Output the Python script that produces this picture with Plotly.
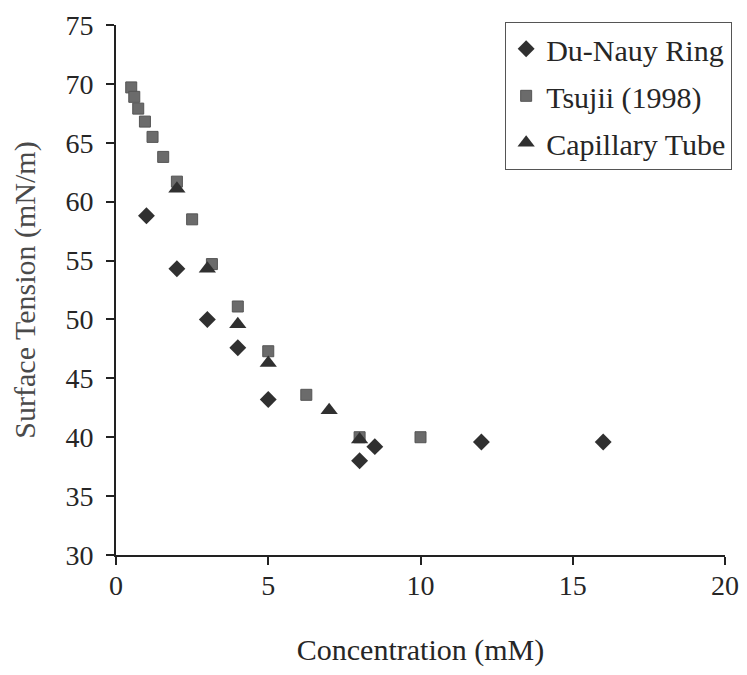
import plotly.graph_objects as go

# Du-Nouy ring measurements
ring_conc = [1, 2, 3, 4, 5, 8, 8.5, 12, 16]
ring_st = [58.8, 54.3, 50.0, 47.6, 43.2, 38.0, 39.2, 39.6, 39.6]

# Tsujii (1998) literature values
tsujii_conc = [0.5, 0.6, 0.73, 0.95, 1.2, 1.55, 2.0, 2.5, 3.15, 4.0, 5.0, 6.25, 8.0, 10.0]
tsujii_st = [69.7, 68.9, 67.9, 66.8, 65.5, 63.8, 61.7, 58.5, 54.7, 51.1, 47.3, 43.6, 40.0, 40.0]

# capillary tube measurements
cap_conc = [2, 3, 4, 5, 7, 8]
cap_st = [61.1, 54.3, 49.6, 46.3, 42.3, 39.8]

font_family = "Liberation Serif, Times New Roman, serif"

fig = go.Figure()
fig.add_trace(go.Scatter(x=tsujii_conc, y=tsujii_st, mode='markers', name='Tsujii (1998)',
                         legendgroup='b', legendrank=2,
                         marker=dict(symbol='square', size=11, color='#6b6b6b',
                                     line=dict(color='#555555', width=1))))
fig.add_trace(go.Scatter(x=cap_conc, y=cap_st, mode='markers', name='Capillary Tube',
                         legendgroup='c', legendrank=3,
                         marker=dict(symbol='triangle-up', size=15, color='#303030',
                                     line=dict(width=0))))
fig.add_trace(go.Scatter(x=ring_conc, y=ring_st, mode='markers', name='Du-Nauy Ring',
                         legendgroup='a', legendrank=1,
                         marker=dict(symbol='diamond', size=13, color='#303030',
                                     line=dict(width=0))))

# page body keeps an 8px margin, so the figure is sized to fit inside the window
fig.update_layout(
    width=739, height=659,
    margin=dict(l=108, r=22, t=17, b=112),
    plot_bgcolor='white', paper_bgcolor='white',
    font=dict(family=font_family, size=28, color='#262626'),
    showlegend=True,
    legend=dict(x=0.639, y=1.006, xanchor='left', yanchor='top',
                bordercolor='#555555', borderwidth=1, bgcolor='white',
                font=dict(family=font_family, size=30), tracegroupgap=5,
                itemwidth=30),
    xaxis=dict(range=[0, 20], dtick=5, showgrid=False, zeroline=False,
               showline=True, linecolor='#222222', linewidth=2,
               ticks='outside', ticklen=8, tickcolor='#222222', tickwidth=1.5,
               ticklabelstandoff=-4, automargin=False,
               title=dict(text='Concentration (mM)', standoff=50,
                          font=dict(family=font_family, size=30)),
               tickfont=dict(family=font_family, size=28)),
    yaxis=dict(range=[30, 75], dtick=5, showgrid=False, zeroline=False,
               showline=True, linecolor='#222222', linewidth=2,
               ticks='outside', ticklen=8, tickcolor='#222222', tickwidth=1.5,
               ticklabelstandoff=7, automargin=False,
               title=dict(text='Surface Tension (mN/m)', standoff=26,
                          font=dict(family=font_family, size=30, color='#4a4a4a')),
               tickfont=dict(family=font_family, size=28)),
)

fig.write_html("out.html")
